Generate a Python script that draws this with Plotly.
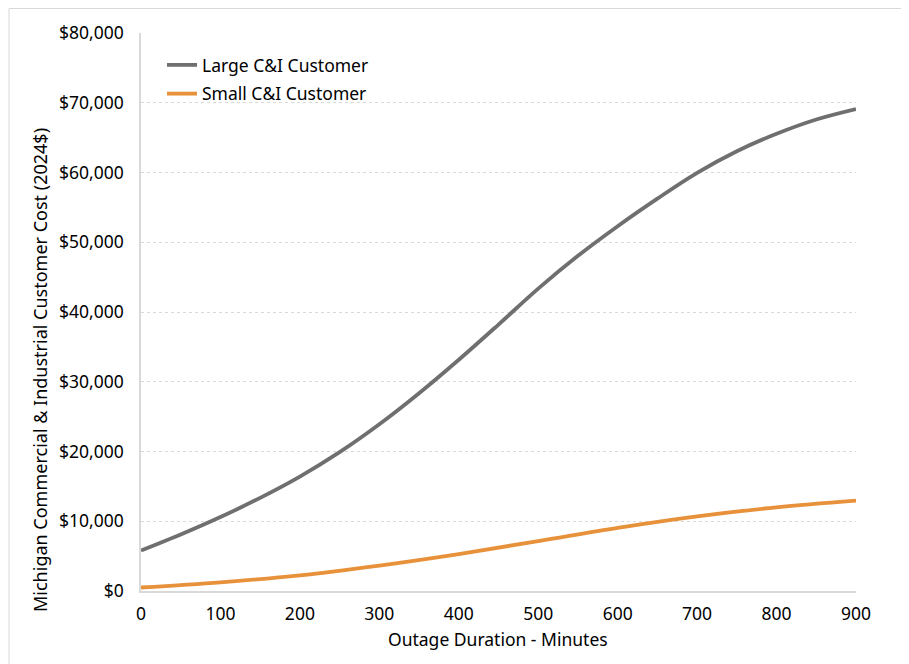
import plotly.graph_objects as go

# Data
minutes = [0, 50, 100, 150, 200, 250, 300, 350, 400, 450, 500, 550, 600, 650, 700, 750, 800, 850, 900]
large_ci = [5800, 8100, 10600, 13350, 16400, 19900, 23900, 28350, 33150, 38200, 43350,
            48050, 52300, 56250, 59950, 63050, 65550, 67600, 69100]
small_minutes = [0, 100, 200, 300, 400, 500, 600, 700, 800, 900]
small_ci = [500, 1250, 2250, 3650, 5300, 7150, 9050, 10700, 12000, 12950]

x_ticks = [0, 100, 200, 300, 400, 500, 600, 700, 800, 900]
y_ticks = [0, 10000, 20000, 30000, 40000, 50000, 60000, 70000, 80000]
y_ticklabels = ["$0", "$10,000", "$20,000", "$30,000", "$40,000", "$50,000", "$60,000", "$70,000", "$80,000"]

FONT = "Noto Sans"
GREY = "#6F6F6F"
ORANGE = "#E8913B"

OFF = 8  # default page body margin
W, H = 909 - OFF, 664 - OFF
L, T = 141 - OFF, 33 - OFF
R = W - (856 - OFF)
B = H - (591 - OFF)
pw, ph = W - L - R, H - T - B


def px_to_paper_x(px):
    return (px - OFF - L) / pw


def px_to_paper_y(py):
    return (H - B - (py - OFF)) / ph


fig = go.Figure()
fig.add_trace(go.Scatter(x=minutes, y=large_ci, mode="lines", name="Large C&I Customer",
                         line=dict(color=GREY, width=3.8, shape="spline", smoothing=1.0),
                         legendgroup="a"))
fig.add_trace(go.Scatter(x=small_minutes, y=small_ci, mode="lines", name="Small C&I Customer",
                         line=dict(color=ORANGE, width=3.8, shape="spline", smoothing=1.0),
                         legendgroup="b"))

fig.update_layout(
    width=W, height=H,
    margin=dict(l=L, r=R, t=T, b=B, autoexpand=False),
    paper_bgcolor="white", plot_bgcolor="white",
    font=dict(family=FONT, size=17.5, color="#000000"),
    showlegend=True,
    legend=dict(x=px_to_paper_x(162), y=px_to_paper_y(47), xanchor="left", yanchor="top",
                bgcolor="rgba(0,0,0,0)", font=dict(size=17.5), tracegroupgap=3,
                itemwidth=30),
    xaxis=dict(range=[0, 900], tickvals=x_ticks, showgrid=False, zeroline=False,
               showline=True, linecolor="#D9D9D9", linewidth=1.5, ticks="",
               tickfont=dict(size=17.5), ticklabelstandoff=6, fixedrange=True),
    yaxis=dict(range=[0, 80000], tickvals=y_ticks, ticktext=y_ticklabels,
               showgrid=True, gridcolor="#D9D9D9", griddash="dot", gridwidth=1,
               zeroline=False, showline=True, linecolor="#D9D9D9", linewidth=1.5,
               ticks="", tickfont=dict(size=17.5), ticklabelstandoff=12, fixedrange=True),
    annotations=[
        dict(text="Michigan Commercial & Industrial Customer Cost (2024$)", textangle=-90,
             x=px_to_paper_x(40), y=px_to_paper_y(370), xref="paper", yref="paper",
             showarrow=False, font=dict(size=18), xanchor="center", yanchor="middle"),
        dict(text="Outage Duration - Minutes",
             x=px_to_paper_x(498), y=px_to_paper_y(639), xref="paper", yref="paper",
             showarrow=False, font=dict(size=17.5), xanchor="center", yanchor="middle"),
    ],
    shapes=[
        dict(type="rect", xref="paper", yref="paper",
             x0=px_to_paper_x(9), x1=px_to_paper_x(930),
             y0=px_to_paper_y(690), y1=px_to_paper_y(8.5),
             line=dict(color="#D9D9D9", width=1), fillcolor="rgba(0,0,0,0)", layer="below"),
    ],
)

fig.write_html("out.html")
